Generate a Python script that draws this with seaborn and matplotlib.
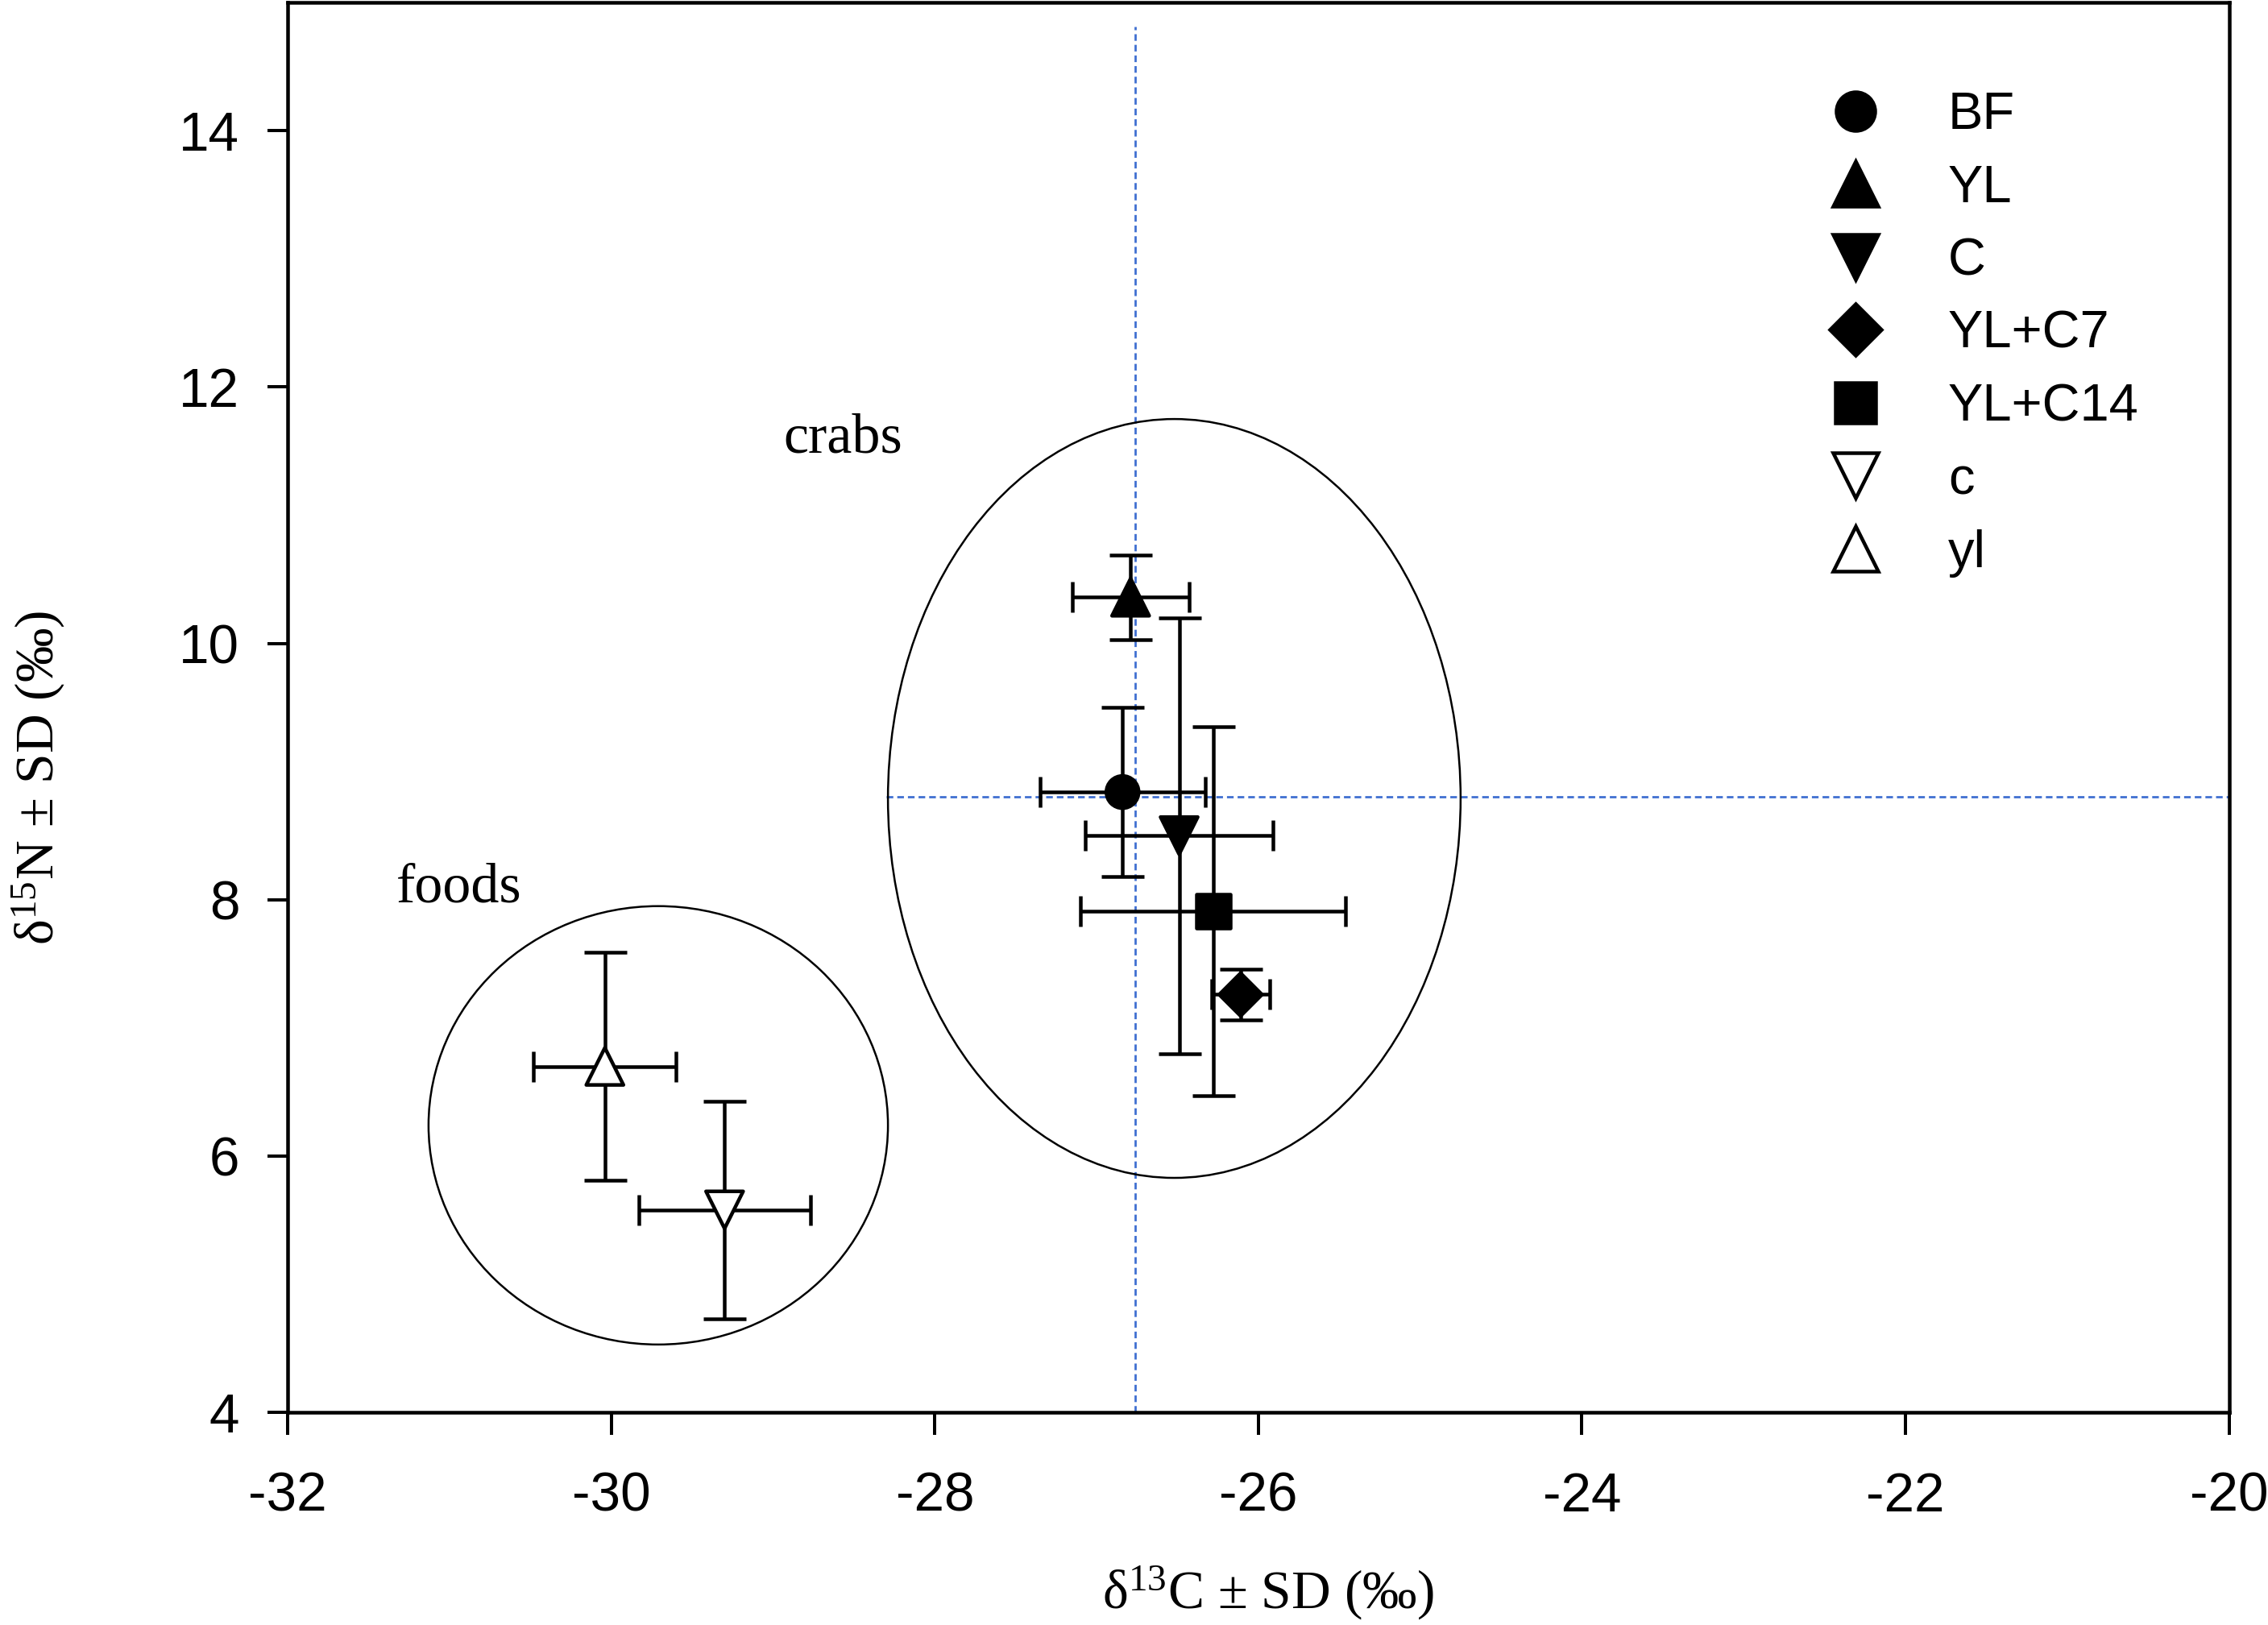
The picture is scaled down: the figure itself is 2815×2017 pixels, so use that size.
import numpy as np
import pandas as pd
import matplotlib
matplotlib.use('Agg')
import matplotlib.pyplot as plt
from matplotlib.patches import Ellipse
import seaborn as sns

# group means and SDs (per mil)
groups = ['BF', 'YL', 'C', 'YL+C7', 'YL+C14', 'c', 'yl']
d13c = [-26.84, -26.79, -26.49, -26.11, -26.28, -29.30, -30.04]
d15n = [8.84, 10.36, 8.50, 7.26, 7.91, 5.58, 6.70]
sd13c = [0.51, 0.36, 0.58, 0.18, 0.82, 0.53, 0.44]
sd15n = [0.66, 0.33, 1.70, 0.20, 1.44, 0.85, 0.89]

# reference lines
ref_x = -26.76
ref_y = 8.80

# cluster ellipses: center x, center y, width, height
ell_names = ['crabs', 'foods']
ell_cx = [-26.52, -29.71]
ell_cy = [8.79, 6.24]
ell_w = [3.54, 2.84]
ell_h = [5.92, 3.42]
ell_label_x = [-28.57, -30.94]
ell_label_y = [11.49, 7.98]

df = pd.DataFrame({'group': groups, 'd13C': d13c, 'd15N': d15n,
                   'sd13C': sd13c, 'sd15N': sd15n})

markers = {'BF': 'o', 'YL': '^', 'C': 'v', 'YL+C7': 'D', 'YL+C14': 's',
           'c': 'v', 'yl': '^'}
faces = {'BF': 'black', 'YL': 'black', 'C': 'black', 'YL+C7': 'black',
         'YL+C14': 'black', 'c': 'white', 'yl': 'white'}
sizes = {'BF': 256, 'YL': 340, 'C': 340, 'YL+C7': 225, 'YL+C14': 282,
         'c': 340, 'yl': 340}

sns.set_style('ticks')
plt.rcParams['font.family'] = ['Liberation Sans', 'DejaVu Sans']
plt.rcParams['mathtext.default'] = 'regular'
plt.rcParams['axes.unicode_minus'] = False
for key in ['text.color', 'axes.labelcolor', 'xtick.color', 'ytick.color', 'axes.edgecolor']:
    plt.rcParams[key] = 'black'

fig = plt.figure(figsize=(2815 / 180, 2017 / 180), dpi=180)
ax = fig.add_axes([0.1269, 0.1308, 0.8559, 0.8677])

# dashed reference lines
dash = (0, (3, 1.8))
ax.plot([ref_x, ref_x], [4, 14.81], color='#3f6fd1', lw=1.1, ls=dash, zorder=1)
ax.plot([-28.3, -20], [ref_y, ref_y], color='#3f6fd1', lw=1.1, ls=dash, zorder=1)

# ellipses around clusters
for cx, cy, w, h in zip(ell_cx, ell_cy, ell_w, ell_h):
    ax.add_patch(Ellipse((cx, cy), w, h, fill=False, edgecolor='black', lw=1.0, zorder=1))
for name, tx, ty in zip(ell_names, ell_label_x, ell_label_y):
    ax.text(tx, ty, name, ha='center', va='baseline', fontsize=28,
            family='Liberation Serif')

# error bars
ax.errorbar(df['d13C'], df['d15N'], yerr=df['sd15N'], fmt='none', ecolor='black',
            elinewidth=1.8, capsize=10.6, capthick=1.8, zorder=2)
ax.errorbar(df['d13C'], df['d15N'], xerr=df['sd13C'], fmt='none', ecolor='black',
            elinewidth=1.8, capsize=7.6, capthick=1.8, zorder=2)

sns.scatterplot(data=df, x='d13C', y='d15N', hue='group', style='group', size='group',
                hue_order=groups, style_order=groups, size_order=groups,
                palette=faces, markers=markers, sizes=sizes,
                edgecolor='black', linewidth=1.8, ax=ax, zorder=3)

sns.move_legend(ax, 'upper left', bbox_to_anchor=(0.794, 0.937), title=None,
                frameon=False, fontsize=26, handlelength=1.0, handletextpad=1.27,
                labelspacing=0.47, borderpad=0, borderaxespad=0, markerscale=1.2)

ax.set_xlim(-32, -20)
ax.set_ylim(4, 15)
ax.set_xticks(np.arange(-32, -19, 2))
ax.set_yticks(np.arange(4, 15, 2))

for s in ax.spines.values():
    s.set_visible(True)
    s.set_linewidth(1.8)
    s.set_color('black')
ax.tick_params(axis='x', direction='out', length=11, width=1.6, pad=18, labelsize=27)
ax.tick_params(axis='y', direction='out', length=10, width=1.6, pad=14, labelsize=27)
for lab in ax.get_xticklabels():
    lab.set_family(['Liberation Sans Narrow', 'Liberation Sans'])

ax.set_xlabel('δ$^{13}$C ± SD (‰)', fontsize=27, family='Liberation Serif')
ax.set_ylabel('δ$^{15}$N ± SD (‰)', fontsize=27, family='Liberation Serif')
ax.xaxis.set_label_coords(0.505, -0.108)
ax.yaxis.set_label_coords(-0.114, 0.45)

fig.savefig('out.png', dpi=180, facecolor='white')
